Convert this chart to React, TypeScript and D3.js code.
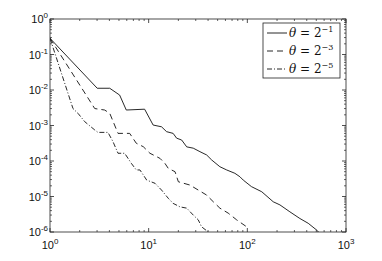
import * as d3 from "d3";

// solid: theta = 2^-1
const solidX = [1, 3.01, 4.03, 5.08, 5.93, 9.1, 11.1, 13.5, 15.2, 17.7, 19.2, 21.6, 24.3, 28.3, 33.1, 38.7, 43.5, 52.7, 61.7, 74.8, 84.1, 90.9, 110, 140, 183, 214, 270, 341, 414, 511, 525];
const solidY = [0.286, 0.0112, 0.0112, 0.0072, 0.00273, 0.00288, 0.00103, 0.00092, 0.00067, 0.0006, 0.00044, 0.00039, 0.00025, 0.00023, 0.000183, 0.000148, 0.000107, 6.9e-5, 5.6e-5, 4.5e-5, 3.6e-5, 2.9e-5, 1.9e-5, 1.36e-5, 7.1e-6, 5.8e-6, 3.7e-6, 2.4e-6, 1.76e-6, 1.1e-6, 1e-6];

// dashed: theta = 2^-3
const dashX = [1, 2.84, 3.58, 4.03, 4.89, 6.42, 7.49, 8.82, 10.3, 13.0, 14.6, 15.8, 18.5, 20.0, 26.2, 31.8, 38.6, 45.2, 52.7, 64.0, 77.9, 98.4];
const dashY = [0.286, 0.003, 0.00273, 0.00221, 0.0006, 0.0006, 0.000316, 0.000253, 0.000165, 0.000119, 8.6e-5, 6.2e-5, 5.0e-5, 2.6e-5, 2.1e-5, 1.52e-5, 1.1e-5, 7.1e-6, 4.7e-6, 3.4e-6, 2.2e-6, 1.4e-6];

// dash-dot: theta = 2^-5
const dotX = [1, 1.71, 1.92, 2.25, 2.84, 3.06, 3.87, 4.35, 4.89, 5.71, 6.67, 7.49, 8.16, 9.55, 11.6, 13.5, 15.8, 17.7, 20.8, 24.3, 28.3, 31.8, 34.4, 40.2];
const dotY = [0.286, 0.003, 0.00221, 0.00128, 0.00075, 0.00064, 0.00064, 0.00035, 0.000165, 0.000165, 8.6e-5, 5.6e-5, 5.6e-5, 2.9e-5, 2.35e-5, 1.52e-5, 8.9e-6, 6.4e-6, 5.1e-6, 4.7e-6, 3.0e-6, 2.2e-6, 1.4e-6, 1.0e-6];

const xDecades = [0, 1, 2, 3];
const yDecades = [0, -1, -2, -3, -4, -5, -6];
const legendExps = ["-1", "-3", "-5"];
const dashStyles = ["none", "6,4", "5,2,1,2"];

const W = 382;
const H = 261;
const margin = { left: 50, right: 36, top: 19, bottom: 29 };

export default function App() {
  const x = d3.scaleLog().domain([1, 1000]).range([margin.left, W - margin.right]);
  const y = d3.scaleLog().domain([1e-6, 1]).range([H - margin.bottom, margin.top]);
  const line = d3
    .line<[number, number]>()
    .x((d) => x(d[0]))
    .y((d) => y(d[1]));

  const series = [
    solidX.map((v, i) => [v, solidY[i]] as [number, number]),
    dashX.map((v, i) => [v, dashY[i]] as [number, number]),
    dotX.map((v, i) => [v, dotY[i]] as [number, number]),
  ];

  const x0 = x(1), x1 = x(1000), y0 = y(1e-6), y1 = y(1);

  const xMinor: number[] = [];
  for (let e = 0; e < 3; e++) for (let k = 2; k <= 9; k++) xMinor.push(k * 10 ** e);
  const yMinor: number[] = [];
  for (let e = -6; e < 0; e++) for (let k = 2; k <= 9; k++) yMinor.push(k * 10 ** e);

  const tickColor = "#222";
  const font = "Liberation Sans, Arial, sans-serif";

  return (
    <div style={{ position: "absolute", left: 0, top: 0 }}>
      <svg width={W} height={H} style={{ display: "block", background: "#fff" }}>
        <defs>
          <clipPath id="plot">
            <rect x={x0} y={y1} width={x1 - x0} height={y0 - y1} />
          </clipPath>
        </defs>

        {/* box */}
        <rect x={x0} y={y1} width={x1 - x0} height={y0 - y1} fill="none" stroke={tickColor} strokeWidth={0.8} />

        {/* x ticks */}
        {xDecades.map((e) => (
          <g key={"xt" + e}>
            <line x1={x(10 ** e)} x2={x(10 ** e)} y1={y0} y2={y0 - 4} stroke={tickColor} strokeWidth={0.8} />
            <line x1={x(10 ** e)} x2={x(10 ** e)} y1={y1} y2={y1 + 4} stroke={tickColor} strokeWidth={0.8} />
            <text x={x(10 ** e)} y={y0 + 17} textAnchor="middle" fontFamily={font} fontSize={11} fill="#111">
              10<tspan dy={-5} fontSize={8}>{e}</tspan>
            </text>
          </g>
        ))}
        {xMinor.map((v) => (
          <g key={"xm" + v}>
            <line x1={x(v)} x2={x(v)} y1={y0} y2={y0 - 2} stroke={tickColor} strokeWidth={0.7} />
            <line x1={x(v)} x2={x(v)} y1={y1} y2={y1 + 2} stroke={tickColor} strokeWidth={0.7} />
          </g>
        ))}

        {/* y ticks */}
        {yDecades.map((e) => (
          <g key={"yt" + e}>
            <line x1={x0} x2={x0 + 4} y1={y(10 ** e)} y2={y(10 ** e)} stroke={tickColor} strokeWidth={0.8} />
            <line x1={x1} x2={x1 - 4} y1={y(10 ** e)} y2={y(10 ** e)} stroke={tickColor} strokeWidth={0.8} />
            <text x={x0 - 2} y={y(10 ** e) + 4} textAnchor="end" fontFamily={font} fontSize={11} fill="#111">
              10<tspan dy={-5} fontSize={8}>{e === 0 ? "0" : "-" + -e}</tspan>
            </text>
          </g>
        ))}
        {yMinor.map((v) => (
          <g key={"ym" + v}>
            <line x1={x0} x2={x0 + 2} y1={y(v)} y2={y(v)} stroke={tickColor} strokeWidth={0.7} />
            <line x1={x1} x2={x1 - 2} y1={y(v)} y2={y(v)} stroke={tickColor} strokeWidth={0.7} />
          </g>
        ))}

        {/* lines */}
        <g clipPath="url(#plot)">
          {series.map((s, i) => (
            <path
              key={"s" + i}
              d={line(s) ?? ""}
              fill="none"
              stroke="#111"
              strokeWidth={0.9}
              strokeDasharray={dashStyles[i]}
            />
          ))}
        </g>

        {/* legend */}
        <rect x={263} y={23} width={77} height={55} fill="#fff" stroke={tickColor} strokeWidth={0.8} />
        {legendExps.map((ex, i) => {
          const ly = 33 + i * 18;
          return (
            <g key={"lg" + i}>
              <line x1={267} x2={287} y1={ly} y2={ly} stroke="#111" strokeWidth={0.9} strokeDasharray={dashStyles[i]} />
              <text x={289} y={ly + 4} fontFamily="DejaVu Serif, Liberation Serif, serif" fontSize={12} fill="#111">
                <tspan fontStyle="italic">θ</tspan>
                <tspan> = 2</tspan>
                <tspan dy={-5} fontSize={8}>{ex.replace("-", "−")}</tspan>
              </text>
            </g>
          );
        })}
      </svg>
    </div>
  );
}
